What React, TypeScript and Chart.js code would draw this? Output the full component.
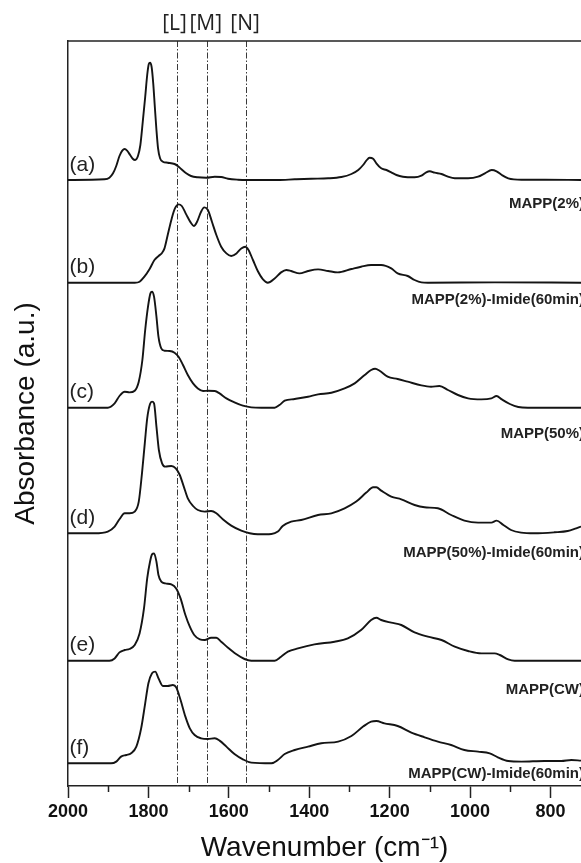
import React, { useEffect, useRef } from "react";
import { Chart, registerables } from "chart.js";

Chart.register(...registerables);

// ---- Spectrum (a) MAPP(2%)
const wnA = [2000,1909,1897,1888,1880,1872,1865,1859,1853,1845,1839,1833,1826,1820,1814,1808,1803,1799,1796,1792,1788,1784,1780,1776,1771,1764,1752,1735,1727,1718,1706,1694,1677,1656,1635,1619,1602,1577,1557,1478,1436,1395,1353,1320,1295,1278,1266,1258,1250,1241,1233,1221,1208,1196,1183,1167,1138,1121,1109,1100,1088,1071,1055,1038,1005,980,963,946,934,921,905,872,815,724];
const absA = [0,0.7,2.3,6.7,14,24,29.3,31,29.3,24.7,21.3,20,24,35,58.3,83,105,116,117.3,113,96.7,73,50,31.7,21.7,18.3,17.3,16,14,10.7,6.7,4,2.7,2.3,3.3,3,1.3,0.3,0,0,0.7,1.3,1.7,3,6,10,15,19.3,22.3,21.3,16.7,11.7,10,7.7,5,3.3,2.7,4.3,7.7,8.7,7.3,6,3.3,1.7,1.7,3.3,6.7,10,8.7,5,1.7,0.3,0.3,0];

// ---- Spectrum (b) MAPP(2%)-Imide(60min)
const wnB = [2000,1834,1822,1810,1797,1785,1774,1767,1760,1752,1742,1734,1725,1717,1706,1695,1687,1679,1669,1661,1652,1642,1631,1619,1606,1594,1581,1569,1559,1551,1540,1528,1515,1503,1486,1470,1457,1445,1424,1403,1378,1353,1329,1295,1271,1246,1221,1196,1180,1155,1138,1121,1105,939,724];
const absB = [0,0,1,6,13.7,22.7,27,29.3,34.3,47.7,64.3,74.3,78.3,76.7,68.3,60.3,56.7,61,71,75.3,72.7,61,47.7,36,29.3,26.7,29.3,34.3,36,32.7,22.7,11.7,3.3,0,4.3,10.3,12.7,11.7,9.3,11.7,13.3,11.7,10.3,13.7,16,17.7,17.7,14.3,9.3,6.7,2.7,0.3,0,0.3,0];

// ---- Spectrum (c) MAPP(50%)
const wnC = [2000,1901,1884,1872,1859,1847,1834,1824,1815,1808,1801,1795,1791,1786,1780,1775,1768,1760,1747,1735,1725,1714,1702,1689,1677,1664,1652,1635,1623,1606,1586,1565,1544,1519,1486,1474,1461,1436,1403,1378,1345,1312,1287,1262,1246,1236,1225,1205,1180,1155,1121,1097,1076,1055,1030,1005,972,947,934,921,901,880,856,724];
const absC = [0,0,4.3,11.7,16,15.3,17,26,47.7,77.7,101,114.3,116,111,91,71,59.3,57,56.7,55,51,42.7,32.7,24.3,19.3,16.7,17,16.7,14.3,9.3,5.3,2,0.3,0,0,2.7,7,8.7,11,13.3,15,19.3,24.3,32.7,37.7,39,37,31,28.7,26,22.3,21,21.7,17.7,12.7,9.3,8.3,9.3,11.7,8.3,3.7,0.7,0,0];

// ---- Spectrum (d) MAPP(50%)-Imide(60min)
const wnD = [2000,1934,1901,1884,1872,1859,1847,1834,1824,1816,1809,1803,1796,1791,1786,1780,1774,1766,1758,1743,1732,1722,1712,1702,1689,1677,1660,1644,1631,1615,1594,1569,1548,1528,1494,1478,1466,1445,1420,1378,1345,1312,1283,1258,1241,1233,1221,1196,1171,1138,1113,1080,1047,1014,980,947,934,917,898,873,840,790,757,736,724];
const absD = [0,0,1.7,6.7,14,20,20,21.7,31.7,60,90,115,129.3,131.7,130,106.7,83.3,70,66.7,67.3,65,58.3,46.7,35,27.3,23.3,21.7,22.3,20,14,7.7,2.7,0,-1,-0.7,1.7,7.3,11.7,13.3,18.3,20,25,31.7,40.7,46,46,42.7,36.7,34,28.3,26,25,18.3,12.7,10.7,10.7,12.7,8.3,3.3,0.7,0,1,2.3,5,6.7];

// ---- Spectrum (e) MAPP(CW)
const wnE = [2000,1897,1884,1872,1859,1847,1834,1822,1811,1803,1796,1791,1786,1780,1775,1768,1758,1743,1731,1720,1708,1697,1686,1672,1660,1644,1631,1619,1602,1582,1561,1544,1486,1470,1453,1428,1387,1337,1304,1271,1246,1233,1221,1196,1171,1138,1105,1071,1038,1005,972,939,926,905,889,724];
const absE = [0,0,2.3,8.3,10.7,11.7,15.7,27.3,52.3,82.3,99,106.3,107.3,99,85.7,79,77.3,76.3,72.3,62.3,45.7,34,25.7,21.3,20.7,23,23,19,13,6.7,1.7,0,0,4,9,12.3,16.3,19,22.3,30.7,40.7,43,40.7,38,35.7,28.3,24,20.7,14,9.7,7.3,7.3,5.7,1.3,0,0];

// ---- Spectrum (f) MAPP(CW)-Imide(60min)
const wnF = [2000,1893,1880,1868,1855,1843,1830,1818,1808,1800,1791,1783,1775,1764,1752,1739,1731,1720,1708,1697,1685,1669,1652,1635,1623,1606,1586,1565,1544,1494,1478,1461,1436,1403,1370,1328,1295,1266,1246,1233,1213,1180,1146,1113,1080,1047,1014,980,951,931,905,872,815,773,748,724];
const absF = [0,0,1.7,6.7,8.3,10,16.7,35,60,80,90,91.7,85,77.3,77.3,78.3,76,63.3,46.7,35,28.3,25,24.3,25,22.7,16.7,9.3,4,0.7,0,3.3,9.3,13.3,16.7,20,21.7,27.3,36.7,41.7,42.3,40,37.3,30.7,26,21.7,18.3,13.3,11.7,10,6,2.3,1.7,2.3,2.3,3.3,2.7];

// vertical stacking offsets (a.u.)
const stackOffsets = [606, 503.3, 378.3, 252.7, 125.3, 22.7];
const curveTags = ["(a)", "(b)", "(c)", "(d)", "(e)", "(f)"];
const sampleNames = [
  "MAPP(2%)",
  "MAPP(2%)-Imide(60min)",
  "MAPP(50%)",
  "MAPP(50%)-Imide(60min)",
  "MAPP(CW)",
  "MAPP(CW)-Imide(60min)",
];
const markerWavenumbers = [1730, 1655, 1557];
const markerLabels = ["[L]", "[M]", "[N]"];
const minorTickValues = [1900, 1700, 1500, 1300, 1100, 900];

const X_MIN = 724;
const X_MAX = 2000;
const Y_MAX = 745;

const FONT = "'Liberation Sans', Arial, Helvetica, sans-serif";

const spectra = [
  [wnA, absA],
  [wnB, absB],
  [wnC, absC],
  [wnD, absD],
  [wnE, absE],
  [wnF, absF],
];

const extrasPlugin = {
  id: "ftirExtras",
  beforeDatasetsDraw(chart: any) {
    const { ctx, chartArea, scales } = chart;
    const xs = scales.x;
    ctx.save();
    ctx.strokeStyle = "#3a3a3a";
    ctx.lineWidth = 1;
    ctx.setLineDash([6, 2, 1.5, 2]);
    markerWavenumbers.forEach((w) => {
      const px = Math.round(xs.getPixelForValue(w)) + 0.5;
      ctx.beginPath();
      ctx.moveTo(px, chartArea.top);
      ctx.lineTo(px, chartArea.bottom);
      ctx.stroke();
    });
    ctx.restore();
  },
  afterDraw(chart: any) {
    const { ctx, chartArea, scales } = chart;
    const xs = scales.x;
    const ys = scales.y;
    ctx.save();
    // top frame line
    ctx.strokeStyle = "#222";
    ctx.lineWidth = 1.5;
    ctx.beginPath();
    ctx.moveTo(chartArea.left - 0.75, chartArea.top);
    ctx.lineTo(chartArea.right + 2, chartArea.top);
    ctx.stroke();
    // minor ticks
    ctx.lineWidth = 1.5;
    minorTickValues.forEach((v) => {
      const px = Math.round(xs.getPixelForValue(v)) + 0.5;
      ctx.beginPath();
      ctx.moveTo(px, chartArea.bottom);
      ctx.lineTo(px, chartArea.bottom + 6);
      ctx.stroke();
    });
    // marker labels
    ctx.fillStyle = "#222";
    ctx.font = "21px 'Open Sans', sans-serif";
    ctx.textAlign = "center";
    ctx.textBaseline = "alphabetic";
    markerWavenumbers.forEach((w, i) => {
      ctx.fillText(markerLabels[i], xs.getPixelForValue(w) - (i === 0 ? 2 : 1), 30);
    });
    // curve tags
    ctx.font = `21px ${FONT}`;
    ctx.textAlign = "left";
    ctx.textBaseline = "middle";
    curveTags.forEach((t, i) => {
      ctx.fillText(t, chartArea.left + 1.5, ys.getPixelForValue(stackOffsets[i] + 15));
    });
    // sample names (right aligned, partly cut by the frame edge)
    const drops = [24, 17, 26, 20, 29, 11];
    ctx.font = `bold 15px ${FONT}`;
    ctx.textAlign = "right";
    sampleNames.forEach((n, i) => {
      ctx.fillText(n, chartArea.right + 3, ys.getPixelForValue(stackOffsets[i]) + drops[i]);
    });
    ctx.restore();
  },
};

export default function App() {
  const canvasRef = useRef<HTMLCanvasElement | null>(null);

  useEffect(() => {
    if (!canvasRef.current) return;
    const datasets = spectra.map(([wn, ab], k) => ({
      label: sampleNames[k],
      data: wn.map((w, i) => ({ x: w, y: (ab[i] ?? 0) + stackOffsets[k] })),
      borderColor: "#141414",
      borderWidth: 1.9,
      pointRadius: 0,
      fill: false,
      cubicInterpolationMode: "monotone" as const,
    }));

    const chart = new Chart(canvasRef.current, {
      type: "line",
      data: { datasets },
      options: {
        responsive: false,
        animation: false,
        devicePixelRatio: 1,
        layout: { padding: { top: 41, left: 0, right: 0, bottom: 0 } },
        plugins: {
          legend: { display: false },
          tooltip: { enabled: false },
        },
        scales: {
          x: {
            type: "linear",
            min: X_MIN,
            max: X_MAX,
            reverse: true,
            afterFit: (s: any) => {
              s.height = 77;
            },
            ticks: {
              stepSize: 200,
              includeBounds: false,
              autoSkip: false,
              maxRotation: 0,
              padding: 3,
              color: "#111",
              font: { family: FONT, size: 18, weight: "bold" },
              callback: (v: any) => String(v),
            },
            grid: {
              display: true,
              drawOnChartArea: false,
              drawTicks: true,
              tickLength: 12,
              tickWidth: 1.5,
              tickColor: "#222",
            },
            border: { display: true, color: "#222", width: 1.5 },
            title: {
              display: true,
              text: "Wavenumber (cm\u207B\u00B9)",
              color: "#111",
              font: { family: FONT, size: 28, lineHeight: 1 },
              padding: { top: 0, bottom: 1 },
            },
          },
          y: {
            type: "linear",
            min: 0,
            max: Y_MAX,
            afterFit: (s: any) => {
              s.width = 68;
            },
            ticks: { display: false },
            grid: { display: false },
            border: { display: true, color: "#222", width: 1.5 },
            title: {
              display: true,
              text: "Absorbance (a.u.)",
              color: "#111",
              font: { family: FONT, size: 28, lineHeight: 1 },
              padding: { top: 12, bottom: 0 },
            },
          },
        },
      },
      plugins: [extrasPlugin],
    } as any);

    return () => chart.destroy();
  }, []);

  return (
    <div
      style={{
        position: "fixed",
        left: 0,
        top: 0,
        width: 581,
        height: 863,
        overflow: "hidden",
        background: "#fff",
      }}
    >
      <canvas ref={canvasRef} width={581} height={863} style={{ display: "block" }} />
    </div>
  );
}
